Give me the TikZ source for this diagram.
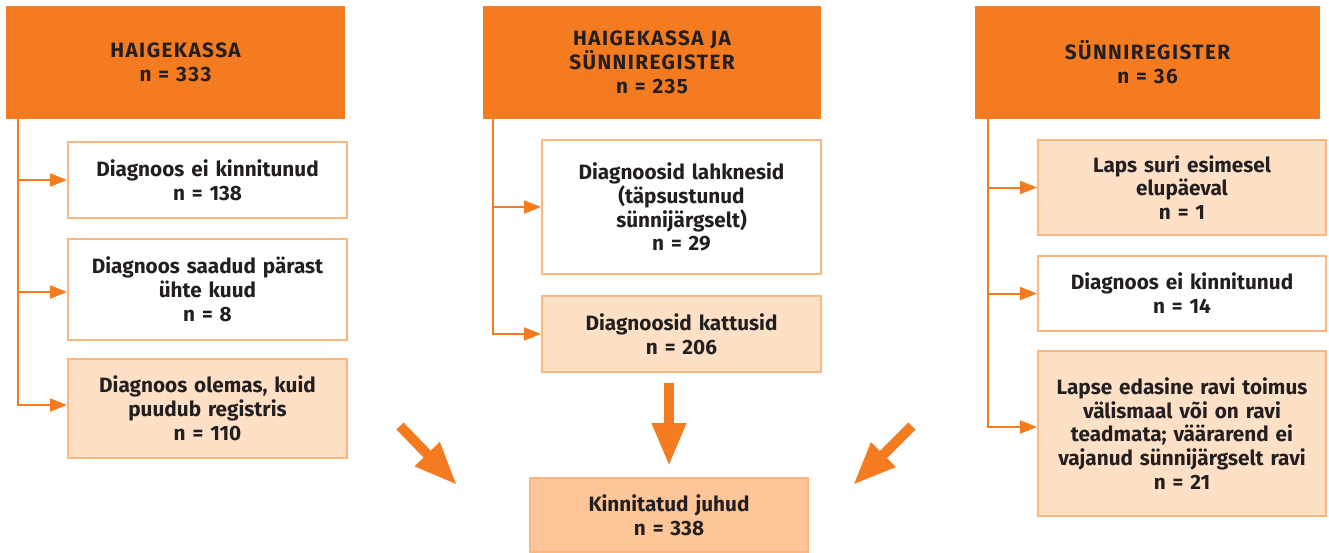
\documentclass[tikz,border=0pt]{standalone}
\usepackage{fontspec}
\setmainfont{Fira Sans}
\usetikzlibrary{arrows.meta}

\definecolor{hdrorange}{RGB}{244,123,32}
\definecolor{edgeorange}{RGB}{251,182,130}
\definecolor{peach}{RGB}{253,224,197}
\definecolor{peachdark}{RGB}{252,198,152}
\definecolor{txt}{RGB}{35,31,32}

\begin{document}
\begin{tikzpicture}[x=0.02cm, y=-0.02cm,
	every node/.style={font=\fontsize{11.8}{13.6}\selectfont\bfseries, text=txt, align=center},
	hdr/.style={fill=hdrorange, inner sep=0pt, minimum height=2.26cm, font=\fontsize{11.8}{13.6}\selectfont\bfseries\addfontfeature{LetterSpace=7}},
	box/.style={draw=edgeorange, line width=0.04cm, inner sep=0pt},
	conn/.style={draw=hdrorange, line width=0.04cm, -{Triangle[length=0.34cm, width=0.26cm]}},
	big/.style={draw=hdrorange, line width=0.2cm, -{Triangle[length=0.86cm, width=0.64cm]}},
]

	% size of the page, in pixels of the reference
	\useasboundingbox (0,0) rectangle (1329,552);

	% headers of the three sources
	\node[hdr, text width=6.78cm] (h1) at (175.5,62.5) {HAIGEKASSA\\n = 333};
	\node[hdr, text width=6.76cm] (h2) at (652,62.5) {HAIGEKASSA JA\\SÜNNIREGISTER\\n = 235};
	\node[hdr, text width=6.9cm] (h3) at (1147.5,62.5) {SÜNNIREGISTER\\n = 36};

	% left column
	\node[box, text width=5.58cm, minimum height=1.52cm] (l1) at (207.5,180) {Diagnoos ei kinnitunud\\n = 138};
	\node[box, text width=5.58cm, minimum height=2.02cm] (l2) at (207.5,289.5) {Diagnoos saadud pärast\\ühte kuud\\n = 8};
	\node[box, fill=peach, text width=5.58cm, minimum height=1.98cm] (l3) at (207.5,408.5) {Diagnoos olemas, kuid\\puudub registris\\n = 110};

	% middle column
	\node[box, text width=5.58cm, minimum height=2.68cm] (m1) at (681.5,207) {Diagnoosid lahknesid\\(täpsustunud\\sünnijärgselt)\\n = 29};
	\node[box, fill=peach, text width=5.58cm, minimum height=1.52cm] (m2) at (681.5,334) {Diagnoosid kattusid\\n = 206};

	% right column
	\node[box, fill=peach, text width=5.76cm, minimum height=1.9cm] (r1) at (1182,187.5) {Laps suri esimesel\\elupäeval\\n = 1};
	\node[box, text width=5.76cm, minimum height=1.5cm] (r2) at (1182,293.5) {Diagnoos ei kinnitunud\\n = 14};
	\node[box, fill=peach, text width=5.76cm, minimum height=3.3cm] (r3) at (1182,433.5) {Lapse edasine ravi toimus\\välismaal või on ravi\\teadmata; väärarend ei\\vajanud sünnijärgselt ravi\\n = 21};

	% result
	\node[box, fill=peachdark, text width=5.56cm, minimum height=1.48cm] (kin) at (669,515) {Kinnitatud juhud\\n = 338};

	% trunks under the headers
	\coordinate (t1) at (18,119);
	\coordinate (t2) at (493,119);
	\coordinate (t3) at (988,119);

	% side arrows into the boxes
	\draw[conn] (t1) |- (l1.west);
	\draw[conn] (t1) |- ([yshift=-0.05cm]l2.west);
	\draw[conn] (t1) |- ([yshift=0.07cm]l3.west);
	\draw[conn] (t2) |- (m1.west);
	\draw[conn] (t2) |- (m2.west);
	\draw[conn] (t3) |- (r1.west);
	\draw[conn] (t3) |- (r2.west);
	\draw[conn] (t3) |- ([yshift=0.13cm]r3.west);

	% big arrows towards the result
	\coordinate (bl0) at (400,426);
	\coordinate (bl1) at (457,485);
	\coordinate (bm0) at (669,383);
	\coordinate (bm1) at (669,466);
	\coordinate (br0) at (912,426);
	\coordinate (br1) at (853,485);
	\draw[big] (bl0) -- (bl1);
	\draw[big] (bm0) -- (bm1);
	\draw[big] (br0) -- (br1);

\end{tikzpicture}
\end{document}
